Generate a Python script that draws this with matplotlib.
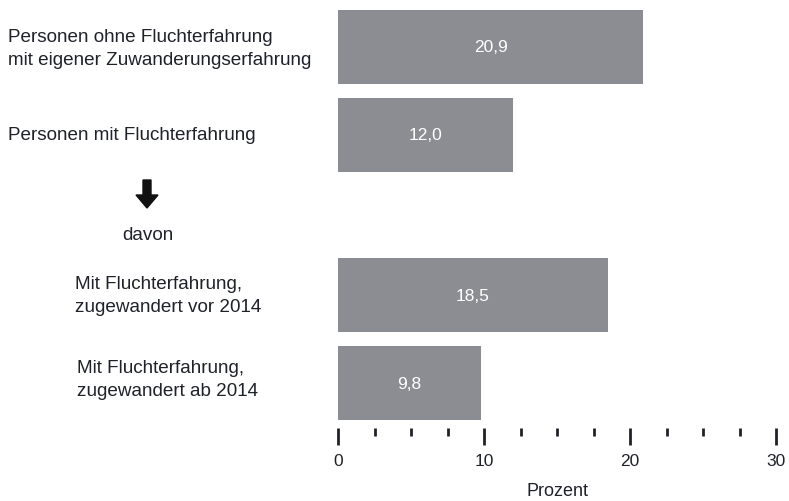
import matplotlib.pyplot as plt
from matplotlib.patches import FancyArrow

# Daten
labels = ['Personen ohne Fluchterfahrung\nmit eigener Zuwanderungserfahrung',
          'Personen mit Fluchterfahrung',
          'Mit Fluchterfahrung,\nzugewandert vor 2014',
          'Mit Fluchterfahrung,\nzugewandert ab 2014']
values = [20.9, 12.0, 18.5, 9.8]
value_labels = ['20,9', '12,0', '18,5', '9,8']
xticks_major = [0, 10, 20, 30]

# Layout
ypos = [0, 1, 2.82, 3.82]
bar_color = '#8b8d93'
text_color = '#1f2228'
plt.rcParams['font.family'] = ['Liberation Sans', 'DejaVu Sans']

W, H = 789, 502
fig = plt.figure(figsize=(W / 100, H / 100), dpi=100)
ax = fig.add_axes([338 / W, 1 - 429 / H, (776 - 338) / W, 429 / H])

ax.barh(ypos, values, height=0.84, color=bar_color)
for y, v, t in zip(ypos, values, value_labels):
    ax.text(v / 2, y, t, color='white', ha='center', va='center', fontsize=12.5)

ax.set_xlim(0, 30)
ax.set_ylim(4.33, -0.545)
for s in ax.spines.values():
    s.set_visible(False)
ax.set_yticks([])
ax.set_xticks(xticks_major)
ax.set_xticks([x for x in [i * 2.5 for i in range(13)] if x not in xticks_major], minor=True)
ax.tick_params(axis='x', which='major', length=12, width=2, pad=6, labelsize=12.5,
               color=text_color, labelcolor=text_color)
ax.tick_params(axis='x', which='minor', length=6, width=2, color=text_color)
ax.set_xlabel('Prozent', fontsize=13, labelpad=10, color=text_color)

# Beschriftungen links (Pixelkoordinaten)
def px(x, y):
    return x / W, 1 - y / H

kw = dict(va='center', fontsize=13.6, linespacing=1.45, color=text_color)
fig.text(*px(8, 49), labels[0], ha='left', **kw)
fig.text(*px(8, 136), labels[1], ha='left', **kw)
fig.text(*px(75, 296), labels[2], ha='left', **kw)
fig.text(*px(77, 380), labels[3], ha='left', **kw)
fig.text(*px(148, 236), 'davon', ha='center', **kw)

# Pfeil
x0, y0 = px(147, 181)
arrow = FancyArrow(x0, y0, 0, -28 / H, width=8 / W, head_width=22 / W,
                   head_length=13 / H, length_includes_head=True,
                   color='#111111', transform=fig.transFigure)
fig.patches.append(arrow)

fig.savefig('out.png', dpi=100)
